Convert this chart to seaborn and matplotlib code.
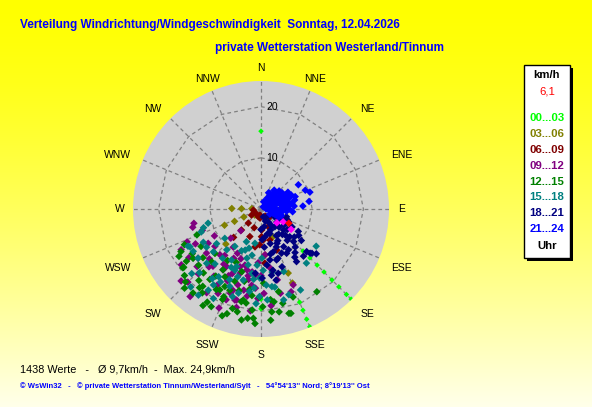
import numpy as np
import pandas as pd
import matplotlib
matplotlib.use("Agg")
import matplotlib.pyplot as plt
from matplotlib.patches import Rectangle
import seaborn as sns

# wind direction (deg, from north, clockwise) and speed (km/h) per 3-hour block
dir_00 = [0, 135, 135, 135, 135, 135, 135, 135, 135, 157.5, 157.5, 157.5, 157.5, 180, 180]
spd_00 = [15.2, 11.6, 13.5, 15.5, 17.4, 19.6, 21.5, 23.6, 24.9, 19.7, 21.4, 23.3, 24.9, 17.6, 19.5]

dir_03 = [271, 271, 272, 245, 245, 246, 225, 157, 225, 157, 157]
spd_03 = [5.7, 3.8, 1.8, 3.7, 5.7, 7.8, 9.7, 5.9, 1.7, 13.6, 15.7]

dir_06 = [262, 231, 189, 150, 128, 110, 199, 222, 200, 178, 223, 224, 202, 179, 182,
          158, 176, 164, 189, 175, 176, 159, 237, 186, 130]
spd_06 = [1.5, 1.3, 1.2, 1.6, 2.2, 2.9, 1.6, 3.7, 3.9, 4.1, 5.6, 7.7, 5.8, 5.4, 7.0,
          3.7, 6.1, 6.3, 7.5, 9.0, 10.6, 8.6, 2.2, 1.8, 2.3]

dir_09 = [258, 255, 250, 226, 223, 237, 231, 231, 232, 222, 209, 196, 188, 175, 225,
          224, 220, 200, 195, 187, 178, 171, 167, 167, 160, 157, 198, 211, 193, 196,
          205, 215, 190, 185, 200, 207, 213, 203, 218, 228, 236, 242, 246, 182, 192,
          208, 216, 240, 228, 219, 174, 186, 183, 212, 197, 204,
          199, 206, 214, 222, 191, 184, 202, 210, 194, 180, 235, 243, 189, 201, 226]
spd_09 = [13.4, 13.8, 12.2, 8.2, 5.8, 12.3, 11.6, 13.7, 15.6, 12.0, 11.0, 11.4, 12.4, 9.0, 20.2,
          17.6, 14.6, 17.5, 18.4, 15.0, 16.5, 11.7, 14.2, 16.9, 17.2, 16.1, 13.2, 13.1, 12.2, 18.5,
          15.5, 16.0, 14.0, 13.0, 12.0, 18.5, 19.5, 21.0, 11.5, 16.8, 17.0, 14.5, 15.8, 17.5, 16.2,
          9.8, 9.2, 10.5, 21.0, 22.0, 19.0, 20.0, 10.5, 14.0, 15.5, 13.8,
          16.8, 14.5, 13.0, 15.2, 13.3, 15.5, 10.5, 17.2, 19.8, 13.0, 19.0, 17.5, 17.2, 19.0, 14.0]

dir_12 = [242, 235, 233, 234, 228, 223, 212, 218, 210, 207, 203, 193, 184, 183, 179,
          174, 170, 167, 164, 160, 146, 172, 191, 209, 205, 221, 216, 233, 196, 189,
          174, 165, 207, 203, 217, 219, 200, 195, 188, 226, 230, 238, 245, 213, 197,
          186, 178, 224, 211, 200, 190, 187, 214, 205, 248,
          222, 229, 237, 215, 201, 192, 181, 175, 168, 198, 208, 240, 226, 193, 185]
spd_12 = [17.7, 17.8, 19.1, 16.4, 16.4, 14.1, 14.0, 19.5, 21.0, 21.4, 19.2, 20.6, 21.4, 22.4, 19.1,
          20.2, 20.4, 18.9, 21.2, 18.3, 19.5, 18.3, 18.1, 18.0, 16.7, 18.5, 17.0, 18.9, 20.2, 18.6,
          17.8, 21.1, 17.7, 18.6, 18.9, 21.1, 15.0, 16.5, 15.8, 12.5, 14.8, 13.8, 16.5, 12.0, 12.8,
          17.0, 14.5, 21.5, 22.0, 22.2, 22.0, 21.5, 15.8, 11.5, 13.5,
          16.8, 19.8, 16.0, 20.0, 17.0, 18.5, 17.2, 21.8, 16.5, 21.5, 15.0, 18.5, 20.5, 14.5, 19.8]

dir_15 = [255, 252, 242, 238, 231, 220, 215, 204, 190, 201, 191, 179, 243, 232, 224,
          216, 209, 188, 181, 172, 160, 162, 140, 124, 154, 193, 203, 212, 202, 227,
          213, 181, 176, 166, 203, 194, 188, 204, 215, 198, 185, 208, 220, 228, 235,
          196, 184, 170, 176, 222, 210,
          199, 207, 218, 225, 186, 178, 195, 212, 232, 240, 183, 170, 205, 197, 249]
spd_15 = [10.7, 11.8, 15.7, 15.6, 9.1, 10.4, 8.9, 7.0, 6.8, 8.6, 9.2, 9.6, 16.0, 15.6, 17.3,
          20.8, 16.3, 16.3, 17.1, 15.3, 13.0, 17.6, 13.8, 13.0, 17.6, 11.2, 13.0, 15.6, 16.3, 18.5,
          18.9, 13.5, 14.9, 18.3, 12.2, 14.3, 12.7, 15.1, 16.6, 18.0, 15.5, 19.8, 14.0, 12.5, 13.0,
          10.0, 11.0, 12.5, 17.8, 20.5, 11.5,
          14.0, 12.8, 12.2, 15.0, 13.8, 12.0, 17.0, 17.5, 11.0, 13.0, 18.5, 15.5, 9.0, 8.0, 12.5]

dir_18 = [144, 96, 109, 107, 121, 134, 133, 142, 160, 172, 155, 149, 146, 135, 142,
          138, 132, 164, 170, 161, 146, 129, 150, 133, 131, 163, 169, 171, 168, 179,
          185, 163, 120, 130, 150, 160, 170, 115, 125, 140, 150, 165, 175, 140, 155,
          128, 120, 110, 180, 100, 95,
          118, 128, 135, 145, 155, 165, 130, 138, 145, 152, 158, 168, 174, 160, 137,
          125, 112, 148, 178, 165]
spd_18 = [1.9, 1.8, 3.6, 5.2, 8.5, 7.8, 6.0, 4.4, 5.1, 5.5, 7.4, 8.6, 9.6, 9.0, 10.8,
          12.4, 12.9, 8.7, 10.1, 10.2, 12.4, 13.9, 10.0, 12.2, 13.2, 10.4, 12.2, 13.1, 14.2, 13.5,
          12.6, 1.6, 3.0, 4.0, 3.0, 2.5, 3.5, 6.0, 5.5, 6.5, 6.0, 7.0, 7.5, 8.0, 9.5,
          10.0, 7.0, 4.5, 4.0, 3.0, 3.5,
          4.0, 6.5, 5.0, 6.0, 4.5, 5.0, 8.5, 10.0, 11.5, 7.0, 8.0, 9.0, 11.0, 12.0, 7.0,
          9.0, 5.5, 3.8, 6.0, 13.0]

dir_21 = [57, 67, 71, 86, 81, 38, 50, 64, 80, 70, 32, 45, 25, 30, 40,
          45, 50, 55, 60, 65, 70, 75, 80, 85, 90, 95, 100, 100, 105, 110,
          90, 85, 75, 55, 60, 35, 20, 70, 115, 95, 80, 60, 50, 90, 120,
          65, 75,
          30, 35, 42, 48, 52, 58, 62, 68, 72, 78, 82, 88, 92, 98, 102,
          108, 112, 40, 55, 75, 85, 95, 68, 58, 45]
spd_21 = [8.7, 9.4, 10.1, 8.2, 9.5, 3.9, 4.8, 5.6, 6.1, 7.1, 2.1, 0.6, 3.5, 3.5, 3.0,
          2.0, 3.5, 2.8, 4.0, 3.2, 4.5, 3.8, 2.5, 4.2, 3.0, 5.0, 2.0, 4.0, 3.2, 2.5,
          5.5, 6.5, 5.5, 4.5, 5.5, 4.5, 1.5, 1.5, 3.8, 6.2, 4.8, 2.0, 1.2, 1.0, 2.0,
          6.5, 6.8,
          2.5, 3.0, 4.2, 3.8, 5.2, 3.4, 4.8, 4.0, 5.0, 4.4, 5.5, 4.8, 4.0, 3.6, 3.0,
          4.2, 3.0, 1.5, 1.8, 2.8, 2.0, 1.5, 6.0, 6.2, 5.0]

# last hour (magenta) and current value (red)
dir_last = [131, 120, 124]
spd_last = [4.1, 5.0, 7.1]
dir_now = [117]
spd_now = [6.1]

groups = ["00...03", "03...06", "06...09", "09...12", "12...15", "15...18", "18...21", "21...24"]
group_colors = ["#00ff00", "#808000", "#800000", "#800080", "#008000", "#008080", "#000080", "#0000ff"]
compass = ["N", "NNE", "NE", "ENE", "E", "ESE", "SE", "SSE",
           "S", "SSW", "SW", "WSW", "W", "WNW", "NW", "NNW"]

all_dir = [dir_00, dir_03, dir_06, dir_09, dir_12, dir_15, dir_18, dir_21, dir_last, dir_now]
all_spd = [spd_00, spd_03, spd_06, spd_09, spd_12, spd_15, spd_18, spd_21, spd_last, spd_now]
labels = groups + ["last", "now"]
palette = dict(zip(labels, group_colors + ["#ff00ff", "#ff0000"]))
sizes = {k: 15 for k in labels}
sizes["00...03"] = 8

df = pd.concat([pd.DataFrame({"dir": d, "speed": s, "Uhr": lab})
                for d, s, lab in zip(all_dir, all_spd, labels)], ignore_index=True)
df["theta"] = np.deg2rad(df["dir"])

plt.rcParams["font.family"] = ["Liberation Sans", "DejaVu Sans"]

W, H = 592, 407
fig = plt.figure(figsize=(W / 100, H / 100), dpi=100)

# yellow -> pale background
bg = fig.add_axes([0, 0, 1, 1], zorder=-10)
t = np.linspace(0, 1, H)[:, None]
img = np.ones((H, 2, 3))
img[:, :, 2] = 0.92 * t ** 1.4
bg.imshow(img, aspect="auto", extent=[0, 1, 0, 1])
bg.axis("off")

rmax = 25
ax = fig.add_axes([133 / W, 70 / H, 256 / W, 256 / H], projection="polar")
ax.set_theta_zero_location("N")
ax.set_theta_direction(-1)
ax.set_facecolor("#d0d0d0")
ax.grid(False)
ax.spines["polar"].set_visible(False)

spokes = np.deg2rad(np.arange(0, 360, 22.5))
ring_theta = np.deg2rad(np.arange(0, 361, 22.5))
dash = dict(color="#808080", lw=0.9, ls=(0, (3, 2.5)), zorder=1)
for a in spokes:
    ax.plot([a, a], [0, rmax], **dash)
for r in [10, 20]:
    ax.plot(ring_theta, [r] * len(ring_theta), **dash)
    ax.annotate(str(r), xy=(0, r), xytext=(8, 0), textcoords="offset points",
                ha="center", va="center", fontsize=7.5)

sns.scatterplot(data=df, x="theta", y="speed", hue="Uhr", palette=palette,
                size="Uhr", sizes=sizes, marker="D", linewidth=0,
                legend=False, ax=ax, zorder=3)
ax.set_ylim(0, rmax)
ax.set_xticks([])
ax.set_yticks([])
ax.set_xlabel("")
ax.set_ylabel("")

for i, name in enumerate(compass):
    a = np.deg2rad(i * 22.5)
    s = np.sin(a)
    if abs(s) > 0.99 or abs(s) < 0.5:
        ha = "center"
    else:
        ha = "left" if s > 0 else "right"
    dy = -4 if (np.cos(a) < -0.3) else 0
    ax.annotate(name, xy=(a, 27.5), xytext=(0, dy), textcoords="offset points",
                ha=ha, va="center", fontsize=7.5, annotation_clip=False)

blue = "#0000ff"
fig.text(20 / W, 1 - 25 / H, "Verteilung Windrichtung/Windgeschwindigkeit  Sonntag, 12.04.2026",
         color=blue, fontsize=8.5, fontweight="bold", va="center", ha="left")
fig.text(215 / W, 1 - 48 / H, "private Wetterstation Westerland/Tinnum",
         color=blue, fontsize=8.5, fontweight="bold", va="center", ha="left")
fig.text(20 / W, 1 - 369 / H, "1438 Werte   -   Ø 9,7km/h  -  Max. 24,9km/h",
         color="black", fontsize=7.8, va="center", ha="left")
fig.text(20 / W, 1 - 386 / H,
         "© WsWin32   -   © private Wetterstation Tinnum/Westerland/Sylt   -   54°54'13'' Nord; 8°19'13'' Ost",
         color=blue, fontsize=5.5, fontweight="bold", va="center", ha="left")

# legend box with shadow
x0, x1, y0, y1 = 524, 570, 65, 258
fig.add_artist(Rectangle(((x0 + 3) / W, 1 - (y1 + 3) / H), (x1 - x0) / W, (y1 - y0) / H,
                         transform=fig.transFigure, facecolor="black", edgecolor="none", zorder=5))
fig.add_artist(Rectangle((x0 / W, 1 - y1 / H), (x1 - x0) / W, (y1 - y0) / H,
                         transform=fig.transFigure, facecolor="white", edgecolor="black",
                         lw=1, zorder=6))
cx = 547 / W
fig.text(cx, 1 - 75 / H, "km/h", fontsize=8.2, fontweight="bold", ha="center", va="center", zorder=7)
fig.text(cx, 1 - 92 / H, "6,1", fontsize=8.2, color="#ff0000", ha="center", va="center", zorder=7)
leg_y = [118, 134, 150, 166, 182, 197, 213, 229]
for g, c, yy in zip(groups, group_colors, leg_y):
    fig.text(cx, 1 - yy / H, g, fontsize=8.2, fontweight="bold", color=c,
             ha="center", va="center", zorder=7)
fig.text(cx, 1 - 246 / H, "Uhr", fontsize=8.2, fontweight="bold", ha="center", va="center", zorder=7)

fig.savefig("out.png", dpi=100)
